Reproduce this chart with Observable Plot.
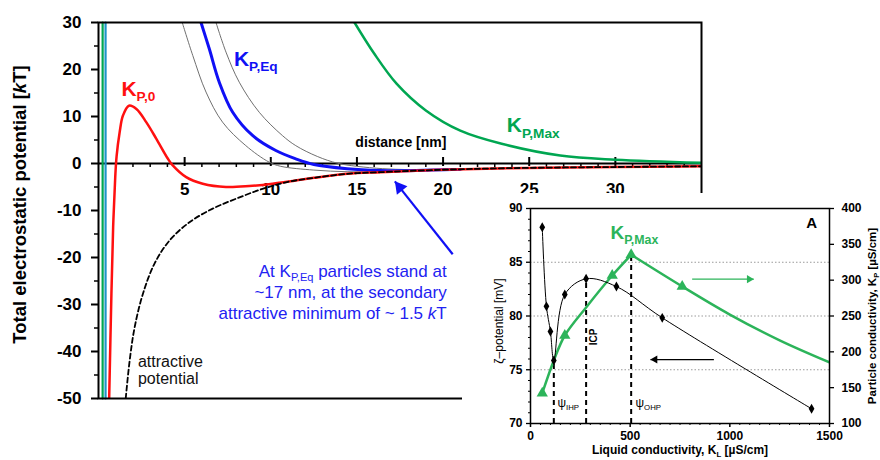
<!DOCTYPE html>
<html><head><meta charset="utf-8">
<script src="https://cdn.jsdelivr.net/npm/d3@7"></script>
<script src="https://cdn.jsdelivr.net/npm/@observablehq/plot@0.6"></script>
<style>
body{margin:0;background:#fff}
#wrap{position:relative;width:880px;height:460px;overflow:hidden;background:#fff}
#inset{position:absolute;left:462px;top:193px}
</style></head><body><div id="wrap"><div id="main"></div><div id="inset"></div></div>
<script>
// ---------- main chart data ----------
const distTicksMajor = [5, 10, 15, 20, 25, 30];
const distTicksMinor = [1,2,3,4,6,7,8,9,11,12,13,14,16,17,18,19,21,22,23,24,26,27,28,29,31,32,33,34];
const potTicksMajor = [30, 20, 10, 0, -10, -20, -30, -40, -50];
const potTicksMinor = [25, 15, 5, -5, -15, -25, -35, -45];

const kp0Dist = [0.62, 0.75, 0.85, 0.97, 1.05, 1.23, 1.42, 1.77, 2.2, 2.77, 3.35, 4.03, 4.31, 5.09, 6.05, 7.4, 8.75, 10.1, 11.45, 12.5, 14.43, 16.36, 19.4, 23.7, 29.9, 35];
const kp0Pot  = [-50, -27.7, -13.5, -3, 1.5, 6.7, 10.2, 12.3, 11.6, 8.8, 5.3, 1.0, -0.4, -2.9, -4.3, -5.0, -4.8, -4.3, -3.6, -3.05, -2.2, -1.85, -1.4, -1.0, -0.75, -0.6];

const attrDist = [1.58, 1.81, 2.1, 2.58, 3.25, 4.12, 5.28, 6.63, 7.98, 9.52, 11.0, 12.5, 14.43, 16.36, 19.4, 23.7, 29.9, 35];
const attrPot  = [-50, -41.9, -34.8, -27.7, -21.3, -16.4, -12.5, -9.6, -7.5, -5.4, -3.9, -3.05, -2.2, -1.85, -1.4, -1.0, -0.75, -0.6];

const kpEqDist = [5.95, 6.43, 7.01, 7.79, 8.94, 10.29, 11.45, 12.5, 14.43, 16.36, 17.5, 19.4, 21];
const kpEqPot  = [30, 24.4, 17.3, 10.9, 5.96, 2.77, 1.0, -0.2, -1.1, -1.5, -1.55, -1.4, -1.25];

const grayADist = [4.86, 5.47, 6.24, 7.2, 8.55, 9.9, 10.58, 12.5, 14.43, 16.36, 18];
const grayAPot  = [30, 23, 15.2, 8.8, 3.8, 0.3, -0.6, -1.4, -1.75, -1.75, -1.6];
const grayBDist = [6.82, 7.4, 8.17, 9.33, 10.67, 11.45, 12.7, 13.86, 15, 16.5, 18, 19.4];
const grayBPot  = [30, 23.7, 17.3, 10.9, 5.96, 3.8, 1.5, 0.07, -0.6, -1.1, -1.3, -1.35];

const kpMaxDist = [14.86, 16.0, 17.3, 19.0, 21.0, 23.4, 26.8, 30.0, 35];
const kpMaxPot  = [30, 23.4, 17, 11.3, 7.0, 4.2, 1.7, 0.8, 0.15];

const wallPot = [-50, 30];
const wallGreenDist = [0.24, 0.24];
const wallTealDist = [0.41, 0.41];

const noteArrow = [{x1: 20.56, y1: -19.3, x2: 17.2, y2: -3.8}];

// ---------- inset data ----------
const liquidTicks = [0, 500, 1000, 1500];
const liquidMinor = [50,100,150,200,250,300,350,400,450,550,600,650,700,750,800,850,900,950,1050,1100,1150,1200,1250,1300,1350,1400,1450];
const zetaTicks = [70, 75, 80, 85, 90];
const zetaMinor = [71,72,73,74,76,77,78,79,81,82,83,84,86,87,88,89];
const zetaGrid = [75, 80, 85];
const kpTicks = [100, 150, 200, 250, 300, 350, 400];

const zetaKL = [59, 80, 100, 117, 172, 279, 431, 661, 1410];
const zetaMV = [88.26, 80.9, 78.56, 75.86, 82.0, 83.46, 82.74, 79.83, 71.37];

const kpRiseKL = [59, 117, 172, 279, 410, 505];
const kpRiseVal = [142.3, 188, 222.8, 262, 306.5, 335.4];
const kpFallKL = [505, 761, 1000, 1250, 1497];
const kpFallVal = [335.4, 291.2, 252, 216, 185.6];
const kpMarkKL = [59, 172, 410, 505, 761];
const kpMarkVal = [142.3, 222.8, 306.5, 335.4, 291.2];

const markerKL = [117, 279, 505];
const markerTopMV = [75.86, 83.46, 85.69];

const zetaArrow = [{x1: 920, x2: 602, y: 75.95}];
const kpArrow = [{x1: 811, x2: 1120, v: 301.4}];

const FONT = "'Liberation Sans', Arial, Helvetica, sans-serif";
const RED = "#ff1010", BLUE = "#1010f5", GREEN = "#00a651", TEAL = "#1d95c8", GRAY = "#707070", GREEN2 = "#2cb45a";
const zip = (xs, ys) => xs.map((x, i) => ({x, y: ys[i]}));

// right axis (particle conductivity) mapped into left scale
const toLeft = v => 70 + (v - 100) * 20 / 300;
const fromLeft = m => 100 + (m - 70) * 300 / 20;

const main = Plot.plot({
  width: 880, height: 460,
  marginLeft: 98, marginRight: 179, marginTop: 22, marginBottom: 62,
  x: {domain: [0, 35], axis: null, label: null},
  y: {domain: [-50, 30], label: null},
  style: {fontFamily: FONT, fontSize: "17px", fontWeight: "bold", background: "white", color: "black"},
  marks: [
    Plot.text(distTicksMajor, {x: d => d, y: 0, dy: 26, text: d => String(d), lineAnchor: "middle", fontSize: 17, fontWeight: "bold"}),
    Plot.ruleY([0], {strokeWidth: 2}),
    Plot.ruleX(distTicksMinor, {x: d => d, y1: 0, y2: 0, insetTop: 0, insetBottom: -4, strokeWidth: 1.5}),
    Plot.ruleX(distTicksMajor, {x: d => d, y1: 0, y2: 0, insetTop: -6, insetBottom: -3, strokeWidth: 2}),
    Plot.line(zip(grayADist, grayAPot), {x: "x", y: "y", stroke: GRAY, strokeWidth: 1, curve: "catmull-rom", clip: true}),
    Plot.line(zip(grayBDist, grayBPot), {x: "x", y: "y", stroke: GRAY, strokeWidth: 1, curve: "catmull-rom", clip: true}),
    Plot.line(zip(kpMaxDist, kpMaxPot), {x: "x", y: "y", stroke: GREEN, strokeWidth: 2.5, curve: "catmull-rom", clip: true}),
    Plot.line(zip(kpEqDist, kpEqPot), {x: "x", y: "y", stroke: BLUE, strokeWidth: 3, curve: "catmull-rom", clip: true}),
    Plot.line(zip(kp0Dist, kp0Pot), {x: "x", y: "y", stroke: RED, strokeWidth: 2.5, curve: "catmull-rom", clip: true}),
    Plot.line(zip(attrDist, attrPot), {x: "x", y: "y", stroke: "black", strokeWidth: 1.8, strokeDasharray: "5,3", curve: "catmull-rom", clip: true}),
    Plot.line(zip(wallGreenDist, wallPot), {x: "x", y: "y", stroke: GREEN, strokeWidth: 2.2}),
    Plot.line(zip(wallTealDist, wallPot), {x: "x", y: "y", stroke: TEAL, strokeWidth: 2.2}),
    Plot.frame({strokeWidth: 2}),
    Plot.axisY(potTicksMajor, {tickSize: 7, tickPadding: 10, strokeWidth: 2, tickFormat: d => String(d), fontSize: 17, fontWeight: "bold"}),
    Plot.axisY(potTicksMinor, {tickSize: 4, strokeWidth: 1.5, tickFormat: () => ""}),
    Plot.text(["Total electrostatic potential [*k*T]"], {frameAnchor: "left", dx: -78, dy: -6, rotate: -90, text: d => d, textAnchor: "middle", lineAnchor: "middle", fontSize: 18.5, fontWeight: "bold"}),
    Plot.text(["K_{P,0}"], {x: 1.33, y: 14.4, text: d => d, textAnchor: "start", lineAnchor: "bottom", fill: RED, fontSize: 21, fontWeight: "bold"}),
    Plot.text(["K_{P,Eq}"], {x: 7.86, y: 20.8, text: d => d, textAnchor: "start", lineAnchor: "bottom", fill: BLUE, fontSize: 21, fontWeight: "bold"}),
    Plot.text(["K_{P,Max}"], {x: 23.7, y: 6.6, text: d => d, textAnchor: "start", lineAnchor: "bottom", fill: GREEN, fontSize: 21, fontWeight: "bold"}),
    Plot.text(["distance [nm]"], {x: 17.55, y: 4.46, text: d => d, lineAnchor: "middle", fontSize: 14, fontWeight: "bold"}),
    Plot.text(["attractive\npotential"], {x: 2.29, y: -43.86, text: d => d, textAnchor: "start", lineAnchor: "middle", lineHeight: 1.08, fontSize: 16, fontWeight: "normal", fill: "#111"}),
    Plot.text(["At K_{P,Eq} particles stand at\n~17 nm, at the secondary\nattractive minimum of ~ 1.5 *k*T"], {x: 20.21, y: -27.2, text: d => d, textAnchor: "end", lineAnchor: "middle", lineHeight: 1.24, fontSize: 17, fontWeight: "normal", fill: "#2222f2"}),
    Plot.link(noteArrow, {x1: "x1", y1: "y1", x2: "x2", y2: "y2", stroke: BLUE, strokeWidth: 2.2}),
    Plot.dot(noteArrow, {x: "x2", y: "y2", symbol: "triangle", r: 5, rotate: -38.5, dx: 4.9, dy: 6.1, fill: BLUE, stroke: "none"})
  ]
});

const inset = Plot.plot({
  width: 418, height: 267,
  marginLeft: 68, marginRight: 51, marginTop: 15, marginBottom: 37,
  x: {domain: [0, 1500], label: null},
  y: {domain: [70, 90], label: null},
  style: {fontFamily: FONT, fontSize: "12px", fontWeight: "bold", background: "white", color: "black"},
  marks: [
    Plot.ruleY(zetaGrid, {y: d => d, stroke: "#9a9a9a", strokeDasharray: "1.5,2", strokeWidth: 1}),
    Plot.ruleX(zip(markerKL, markerTopMV), {x: "x", y1: 70, y2: "y", stroke: "black", strokeDasharray: "5,4", strokeWidth: 2}),
    Plot.line(zip(kpRiseKL, kpRiseVal.map(toLeft)), {x: "x", y: "y", stroke: GREEN2, strokeWidth: 2.5, curve: "catmull-rom"}),
    Plot.line(zip(kpFallKL, kpFallVal.map(toLeft)), {x: "x", y: "y", stroke: GREEN2, strokeWidth: 2.5, curve: "catmull-rom", clip: true}),
    Plot.line(zip(zetaKL, zetaMV), {x: "x", y: "y", stroke: "black", strokeWidth: 1, curve: "catmull-rom"}),
    Plot.dot(zip(zetaKL, zetaMV), {x: "x", y: "y", symbol: "diamond", r: 3, fill: "black", stroke: "none"}),
    Plot.dot(zip(kpMarkKL, kpMarkVal.map(toLeft)), {x: "x", y: "y", symbol: "triangle", r: 4.2, fill: GREEN2, stroke: "none"}),
    Plot.link(zetaArrow, {x1: "x1", x2: "x2", y1: "y", y2: "y", stroke: "black", strokeWidth: 1.3}),
    Plot.dot(zetaArrow, {x: "x2", y: "y", symbol: "triangle", r: 3, rotate: -90, dx: 4.5, fill: "black", stroke: "none"}),
    Plot.link(kpArrow, {x1: "x1", x2: "x2", y1: d => toLeft(d.v), y2: d => toLeft(d.v), stroke: GREEN2, strokeWidth: 1.3}),
    Plot.dot(kpArrow, {x: "x2", y: d => toLeft(d.v), symbol: "triangle", r: 3, rotate: 90, dx: -4.5, fill: GREEN2, stroke: "none"}),
    Plot.frame({strokeWidth: 1.5}),
    Plot.axisY(zetaTicks, {tickSize: 4, tickPadding: 4, strokeWidth: 1.3, tickFormat: d => String(d), fontSize: 12, fontWeight: "bold"}),
    Plot.axisY(zetaMinor, {tickSize: 2, strokeWidth: 1, tickFormat: () => ""}),
    Plot.axisY(kpTicks.map(toLeft), {anchor: "right", tickSize: 4, tickPadding: 8, strokeWidth: 1.3, tickFormat: d => String(Math.round(fromLeft(d))), fontSize: 12, fontWeight: "bold"}),
    Plot.axisX(liquidTicks, {tickSize: 4, tickPadding: 4, strokeWidth: 1.5, tickFormat: d => String(d), fontSize: 12, fontWeight: "bold"}),
    Plot.axisX(liquidMinor, {tickSize: 2, strokeWidth: 1, tickFormat: () => ""}),
    Plot.text(["ζ–potential [mV]"], {frameAnchor: "left", dx: -31, dy: 5, rotate: -90, text: d => d, textAnchor: "middle", lineAnchor: "middle", fontSize: 12, fontWeight: "normal"}),
    Plot.text(["Particle conductivity, K_{P} [µS/cm]"], {frameAnchor: "right", dx: 43, rotate: -90, text: d => d, textAnchor: "middle", lineAnchor: "middle", fontSize: 11.5, fontWeight: "bold"}),
    Plot.text(["Liquid conductivity, K_{L} [µS/cm]"], {frameAnchor: "bottom", dy: 27, text: d => d, textAnchor: "middle", lineAnchor: "middle", fontSize: 12, fontWeight: "bold"}),
    Plot.text(["K_{P,Max}"], {x: 401, y: 87.2, text: d => d, textAnchor: "start", lineAnchor: "bottom", fill: GREEN2, fontSize: 19, fontWeight: "bold"}),
    Plot.text(["A"], {x: 1410, y: 88.6, text: d => d, lineAnchor: "middle", fontSize: 15, fontWeight: "bold"}),
    Plot.text(["ψ_{IHP}"], {x: 135, y: 71.86, text: d => d, textAnchor: "start", lineAnchor: "middle", fontSize: 12, fontWeight: "normal"}),
    Plot.text(["ψ_{OHP}"], {x: 527, y: 71.86, text: d => d, textAnchor: "start", lineAnchor: "middle", fontSize: 12, fontWeight: "normal"}),
    Plot.text(["ICP"], {x: 316, y: 78.05, text: d => d, rotate: -90, lineAnchor: "middle", fontSize: 10, fontWeight: "bold"})
  ]
});

// rich text: _{sub} and *italic*
const SVGNS = "http://www.w3.org/2000/svg";
function richify(el) {
  const s = el.textContent;
  if (!/_\{|\*/.test(s)) return;
  el.textContent = "";
  const re = /_\{([^}]*)\}|\*([^*]*)\*|([^_*]+)/g;
  let m, shifted = false;
  while ((m = re.exec(s))) {
    const t = document.createElementNS(SVGNS, "tspan");
    if (m[1] != null) {
      t.textContent = m[1];
      t.setAttribute("font-size", "65%");
      t.setAttribute("dy", "0.4em");
      shifted = true;
    } else {
      t.textContent = m[2] != null ? m[2] : m[3];
      if (m[2] != null) t.setAttribute("font-style", "italic");
      if (shifted) { t.setAttribute("dy", "-0.26em"); shifted = false; }
    }
    el.appendChild(t);
  }
}
function process(svg) {
  svg.querySelectorAll("text").forEach(tx => {
    const spans = tx.querySelectorAll("tspan");
    if (spans.length) spans.forEach(richify); else richify(tx);
  });
}
process(main); process(inset);
document.getElementById("main").appendChild(main);
document.getElementById("inset").appendChild(inset);
</script></body></html>
